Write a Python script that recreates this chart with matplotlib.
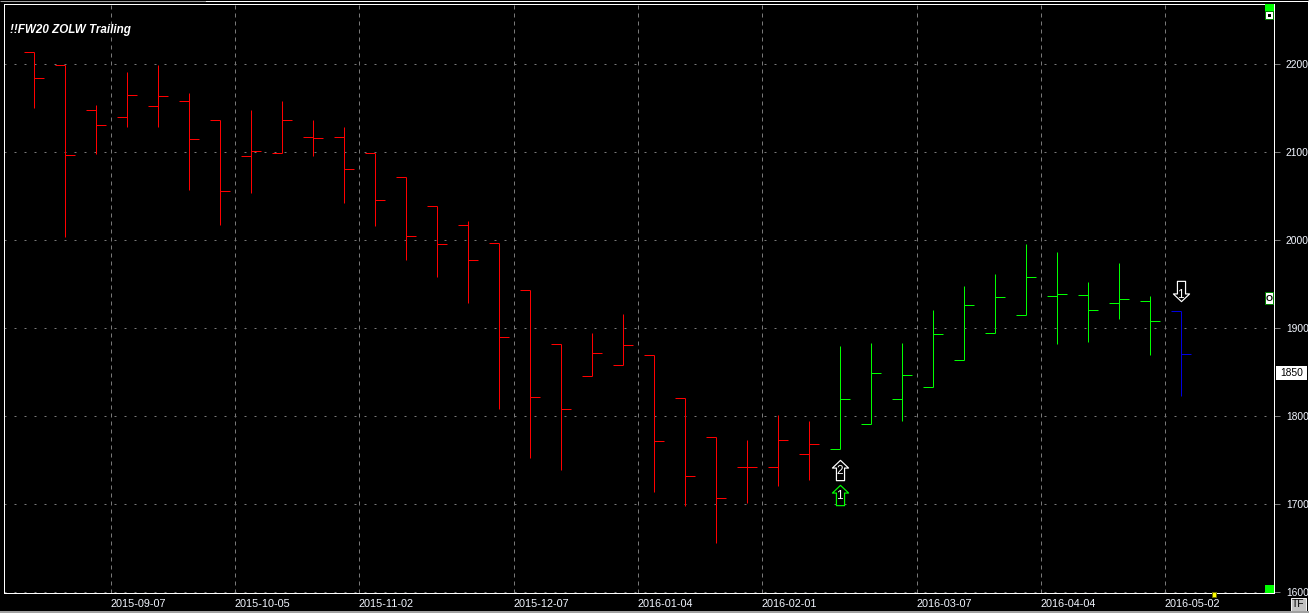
"""plot.py -- weekly OHLC bars of FW20 with ZOLW trailing signals, black terminal look."""
import numpy as np
import pandas as pd
import matplotlib
matplotlib.use("Agg")
import matplotlib.pyplot as plt
from matplotlib.lines import Line2D
from matplotlib.patches import Rectangle
from matplotlib.path import Path
from matplotlib.transforms import ScaledTranslation

plt.rcParams["font.family"] = ["Liberation Sans", "DejaVu Sans"]
plt.rcParams["lines.scale_dashes"] = False

W, H = 1309, 613

open_ = [2213.6, 2199.0, 2147.7, 2139.8, 2152.3, 2158.0, 2136.4, 2095.5, 2098.9, 2117.0,
         2117.0, 2098.9, 2071.6, 2038.6, 2017.0, 1996.6, 1943.2, 1881.8, 1845.5, 1858.0,
         1869.3, 1820.5, 1776.1, 1742.0, 1742.0, 1756.8, 1762.5, 1790.9, 1819.3, 1833.0,
         1863.6, 1894.3, 1914.8, 1936.4, 1937.5, 1928.4, 1930.7, 1919.3]
high = [2213.6, 2199.0, 2153.8, 2191.3, 2199.2, 2167.4, 2136.4, 2148.1, 2158.3, 2136.7,
        2128.8, 2098.9, 2071.6, 2038.6, 2022.0, 1996.6, 1943.2, 1881.8, 1894.3, 1916.3,
        1869.3, 1820.5, 1776.1, 1773.1, 1801.5, 1794.7, 1879.9, 1883.3, 1883.3, 1920.8,
        1948.1, 1961.7, 1995.8, 1986.7, 1952.7, 1974.2, 1936.7, 1919.3]
low = [2150.8, 2004.0, 2098.5, 2128.8, 2128.8, 2057.2, 2017.4, 2053.8, 2098.9, 2095.8,
       2042.4, 2016.7, 1978.0, 1958.7, 1928.8, 1808.3, 1753.0, 1739.4, 1845.5, 1858.0,
       1714.4, 1698.5, 1656.4, 1701.9, 1721.2, 1728.0, 1762.5, 1790.9, 1794.7, 1833.0,
       1863.6, 1894.3, 1914.8, 1882.2, 1884.5, 1910.6, 1869.7, 1823.5]
close = [2184.0, 2096.6, 2130.7, 2164.8, 2163.6, 2114.8, 2055.7, 2101.1, 2136.4, 2115.9,
         2080.7, 2045.5, 2004.5, 1995.5, 1977.3, 1889.8, 1821.6, 1808.0, 1871.6, 1880.7,
         1771.6, 1731.8, 1706.8, 1742.0, 1772.7, 1768.2, 1819.3, 1848.9, 1846.6, 1893.2,
         1926.0, 1935.2, 1958.0, 1938.6, 1920.5, 1933.0, 1908.0, 1870.5]
trend = ["r"] * 26 + ["g"] * 11 + ["b"]

weeks = pd.date_range("2015-08-17", periods=38, freq="W-MON")
date_labels = ["2015-09-07", "2015-10-05", "2015-11-02", "2015-12-07", "2016-01-04",
               "2016-02-01", "2016-03-07", "2016-04-04", "2016-05-02"]
price_ticks = [1600, 1700, 1800, 1900, 2000, 2100, 2200]
last_price = 1850

signal_week = [26, 26, 37]
signal_price = [1739, 1711, 1942.4]
signal_text = ["2", "1", "1"]
signal_dir = ["up", "up", "down"]
signal_color = ["white", "#00ff00", "white"]

COL = {"r": "#ff0000", "g": "#00ff00", "b": "#0000e0"}
GRID = "#787878"
LABEL = "#f2f6ff"
PX = 72.0 / 100  # one pixel in points


def px_rect(fig, x0, y0, x1, y1, **kw):
    """Rectangle on the figure given in image pixels (y down)."""
    r = Rectangle((x0 / W, 1 - y1 / H), (x1 - x0) / W, (y1 - y0) / H,
                  transform=fig.transFigure, linewidth=kw.pop("lw", 0), **kw)
    fig.add_artist(r)
    return r


def px_line(fig, xs, ys, color):
    fig.add_artist(Line2D([x / W for x in xs], [1 - y / H for y in ys], color=color,
                          lw=PX, transform=fig.transFigure, solid_capstyle="butt"))


UP = Path(np.array([(-2, -5), (-2, 1.2), (-4, 1.2), (0, 5), (4, 1.2), (2, 1.2), (2, -5), (-2, -5)]),
          closed=True)
DOWN = Path(UP.vertices * [1, -1], closed=True)

fig = plt.figure(figsize=(W / 100, H / 100), dpi=100, facecolor="black")
ax = fig.add_axes([3.5 / W, 1 - 593 / H, (1274 - 3.5) / W, (593 - 3.5) / H], facecolor="black")

x = np.arange(len(weeks))
colors = [COL[t] for t in trend]
tick = 10 / 31

# grid goes on the left edge of the week's slot
week_str = [d.strftime("%Y-%m-%d") for d in weeks]
date_pos = [week_str.index(s) for s in date_labels]
for p in date_pos:
    ax.axvline(p - 0.52, color=GRID, lw=PX, ls=(0, (4 * PX, 4 * PX)), zorder=1)
for p in price_ticks:
    ax.axhline(p, color=GRID, lw=PX, ls=(0, (2 * PX, 8 * PX)), zorder=1)

ax.vlines(x, low, high, colors=colors, lw=PX, zorder=3)
ax.hlines(open_, x - tick, x, colors=colors, lw=PX, zorder=3)
ax.hlines(close, x, x + tick, colors=colors, lw=PX, zorder=3)

for wk, pr, tx, dr, c in zip(signal_week, signal_price, signal_text, signal_dir, signal_color):
    ax.plot([wk], [pr], marker=UP if dr == "up" else DOWN, ms=14.6, mfc="black", mec=c,
            mew=PX * 1.2, ls="none", zorder=4)
    ax.text(wk, pr + (-1.6 if dr == "up" else -4.5), tx, color="white", fontsize=8.5,
            ha="center", va="center", zorder=5)

ax.set_xlim((3.5 - 33.7) / 31, (1274 - 33.7) / 31)
ax.set_ylim(1600 - 0.7 / 0.88, 2200 + (64.3 - 3.5) / 0.88)
ax.set_xticks([p - 0.52 for p in date_pos])
ax.set_xticklabels(date_labels, ha="left")
nudge = ScaledTranslation(1 / 100, 0, fig.dpi_scale_trans)
for lab in ax.get_xticklabels():
    lab.set_transform(lab.get_transform() + nudge)
ax.set_yticks(price_ticks)
ax.yaxis.tick_right()
ax.tick_params(axis="x", length=0, pad=4, labelsize=7.8, labelcolor=LABEL)
ax.tick_params(axis="y", length=4, width=PX, color=GRID, pad=4.5, labelsize=7.4, labelcolor=LABEL)
for s in ax.spines.values():
    s.set_color("white")
    s.set_linewidth(PX)

fig.text(10 / W, 1 - 30.5 / H, "!!FW20 ZOLW Trailing", color="white", fontsize=8.4,
         fontweight="bold", fontstyle="italic", va="center", ha="left")

# scale handles on the right edge of the plot
px_rect(fig, 1265, 4, 1274, 12, facecolor="#00ff00", zorder=6)
px_rect(fig, 1265, 11, 1274, 19.5, facecolor="#008000", zorder=6)
px_rect(fig, 1266, 12, 1273, 18.5, facecolor="white", zorder=7)
px_rect(fig, 1268, 14, 1271, 16.5, facecolor="black", zorder=8)
px_rect(fig, 1265, 292, 1274, 305, facecolor="#008000", zorder=6)
px_rect(fig, 1266, 293, 1273, 304, facecolor="white", zorder=7)
fig.text(1269.5 / W, 1 - 298.7 / H, "O", color="black", fontsize=6.5, fontweight="bold",
         ha="center", va="center", zorder=8)
px_rect(fig, 1265, 585, 1274, 593, facecolor="#00ff00", zorder=6)
px_rect(fig, 1212, 591.5, 1215.5, 596.5, facecolor="#ffff00", edgecolor="#707000", lw=PX, zorder=6)

# last price box and TF button
px_rect(fig, 1276, 366, 1307, 380, facecolor="white", zorder=6)
fig.text(1292 / W, 1 - 373.3 / H, str(last_price), color="black", fontsize=7.4,
         ha="center", va="center", zorder=7)
px_rect(fig, 1290.5, 597.5, 1306, 610.5, facecolor="#c0c0c0", edgecolor="#f0f0f0", lw=PX, zorder=6)
fig.text(1298.2 / W, 1 - 604.2 / H, "TF", color="black", fontsize=7.4,
         ha="center", va="center", zorder=7)

# window edges
px_line(fig, [0, 205], [0.5, 0.5], "#a0a0a0")
px_line(fig, [205, W], [0.5, 0.5], "white")
px_line(fig, [W - 1.5, W - 1.5], [0, H], "white")
px_rect(fig, 0, 611, W, H, facecolor="#a0a0a0", zorder=6)

fig.savefig("out.png", dpi=100, facecolor="black")
